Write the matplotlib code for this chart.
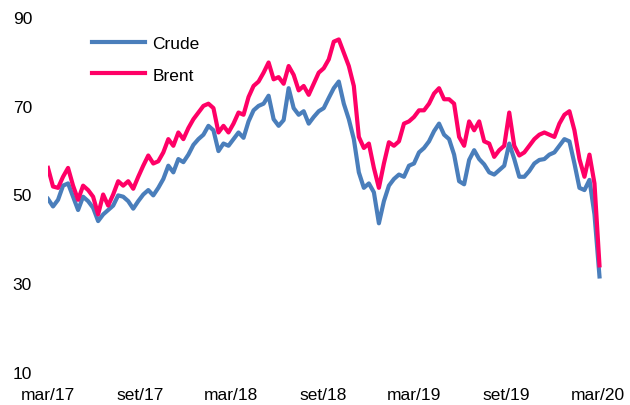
import matplotlib
matplotlib.use("Agg")
import matplotlib.pyplot as plt
import pandas as pd

plt.rcParams['font.family'] = ['Liberation Sans', 'DejaVu Sans']

# ~10-day sampling of daily prices
start_date = '2017-03-01'
step = '10D'

crude = [49, 47.3, 48.8, 52, 52.5, 49.5, 46.5, 49.5, 48.5, 47,
         44, 45.5, 46.5, 47.5, 49.8, 49.5, 48.5, 46.8, 48.5, 50,
         51, 49.8, 51.5, 53.5, 56.5, 55, 58, 57.3, 59, 61.2,
         62.5, 63.5, 65.5, 64.5, 59.8, 61.5, 61, 62.5, 64, 62.8,
         66.5, 69, 70, 70.5, 72.3, 67, 65.5, 66.8, 74, 69.5,
         68, 68.8, 66, 67.5, 68.8, 69.5, 71.8, 74, 75.5, 70.5,
         67, 62.5, 55, 51.5, 52.5, 50.5, 43.5, 48.5, 52, 53.5,
         54.5, 54, 56.5, 57, 59.5, 60.5, 62, 64.3, 66, 63.5,
         62.5, 59, 53, 52.3, 57.8, 60, 58, 56.8, 55, 54.5,
         55.5, 56.5, 61.5, 58, 54, 54, 55.3, 57, 57.8, 58,
         59, 59.5, 61, 62.5, 62, 57, 51.5, 51, 53.3, 45.5,
         31.5]

brent = [56, 51.8, 51.5, 54, 56, 52, 48.8, 52, 51, 49.5,
         45.5, 50, 47.5, 50, 53, 52, 53, 51.3, 54, 56.5,
         58.8, 57, 57.5, 59.5, 62.5, 61, 64, 62.5, 65, 67,
         68.5, 70, 70.5, 69.5, 64, 65.5, 64, 66, 68.5, 68,
         72, 74.5, 75.5, 77.5, 79.8, 76, 76.5, 75, 79, 77,
         73.5, 74.5, 72.5, 75, 77.5, 78.5, 80.5, 84.5, 85, 82,
         79, 74.5, 63, 60.5, 61.5, 56, 51.5, 57, 61.8, 61,
         62, 66, 66.5, 67.5, 69, 69, 70.5, 72.8, 74, 71.5,
         71.5, 70.5, 63, 61, 66.5, 64.5, 66.5, 62, 61.5, 58.5,
         60, 61, 68.5, 61, 58.8, 59.5, 61, 62.5, 63.5, 64,
         63.5, 63, 66, 68, 68.8, 64.5, 58, 54, 59, 52.5,
         34]

y_ticks = [10, 30, 50, 70, 90]
x_tick_dates = ['2017-03-01', '2017-09-01', '2018-03-01', '2018-09-01',
                '2019-03-01', '2019-09-01', '2020-03-01']
x_tick_labels = ['mar/17', 'set/17', 'mar/18', 'set/18', 'mar/19', 'set/19', 'mar/20']

dates = pd.date_range(start_date, periods=len(crude), freq=step)

W, H = 630, 406
fig = plt.figure(figsize=(W / 100, H / 100), dpi=100)
ax = fig.add_axes([48 / W, 1 - 372.7 / H, (602 - 48) / W, (372.7 - 18.3) / H])

ax.plot(dates, crude, color='#4a7ebb', lw=3.0, label='Crude', solid_joinstyle='round')
ax.plot(dates, brent, color='#ff0066', lw=3.0, label='Brent', solid_joinstyle='round')

ax.set_ylim(10, 90)
ax.set_yticks(y_ticks)
ax.set_xlim(pd.Timestamp('2017-03-01'), pd.Timestamp('2020-03-10'))
ax.set_xticks(pd.to_datetime(x_tick_dates))
ax.set_xticklabels(x_tick_labels)

for s in ax.spines.values():
    s.set_visible(False)
ax.tick_params(axis='both', length=0, labelsize=12.5, colors='black')
ax.tick_params(axis='y', pad=11.5)
ax.tick_params(axis='x', pad=11)

leg = ax.legend(loc='upper left', bbox_to_anchor=(0.052, 0.992), frameon=False,
                fontsize=12.5, handlelength=3.05, handletextpad=0.4, labelspacing=0.95)

fig.savefig('out.png', dpi=100)
